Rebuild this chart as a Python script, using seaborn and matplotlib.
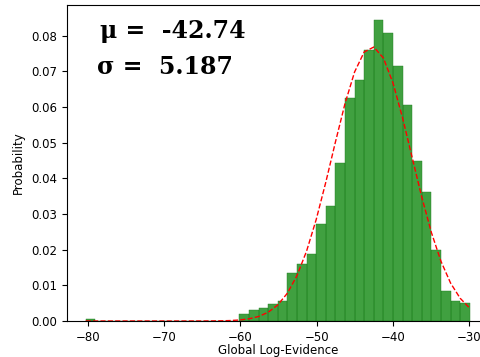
import numpy as np
import pandas as pd
import matplotlib
matplotlib.use("Agg")
import matplotlib.pyplot as plt
import seaborn as sns

# ---- data ----
mu = -42.74
sigma = 5.187
bin_min, bin_max, n_bins = -80.3, -29.9, 40
# density of each of the 40 bins (left to right)
bin_density = [
    0.0005, 0, 0, 0, 0, 0, 0, 0, 0, 0,
    0, 0, 0, 0, 0, 0,
    0.0020, 0.0030, 0.0036, 0.0049, 0.0056,
    0.0134, 0.0159, 0.0187, 0.0272, 0.0323,
    0.0443, 0.0626, 0.0675, 0.0759, 0.0844,
    0.0808, 0.0714, 0.0605, 0.0448, 0.0361,
    0.0198, 0.0085, 0.0055, 0.0050,
]
x_label = "Global Log-Evidence"
y_label = "Probability"

edges = np.linspace(bin_min, bin_max, n_bins + 1)
centers = (edges[:-1] + edges[1:]) / 2
hist_df = pd.DataFrame({"x": centers, "w": bin_density})
pdf = np.exp(-0.5 * ((edges - mu) / sigma) ** 2) / (sigma * np.sqrt(2 * np.pi))
curve_df = pd.DataFrame({"x": edges, "y": pdf})

fig = plt.figure(figsize=(4.81, 3.57), dpi=100)
ax = fig.add_axes([66.5 / 481, 36 / 357, 422.5 / 481, 316 / 357])

sns.histplot(data=hist_df, x="x", weights="w", bins=n_bins,
             binrange=(bin_min, bin_max), color="g", alpha=0.75,
             edgecolor="#1f7a1f", linewidth=0.3, ax=ax)
sns.lineplot(data=curve_df, x="x", y="y", color="r", linestyle="--",
             linewidth=1.0, ax=ax)

span = bin_max - bin_min
ax.set_xlim(bin_min - 0.05 * span, bin_max + 0.05 * span)
ax.set_ylim(0, max(bin_density) * 1.05)
ax.spines["right"].set_visible(False)

ax.set_xlabel(x_label, fontsize=8.5, labelpad=0)
ax.set_ylabel(y_label, fontsize=8.5)
ax.tick_params(labelsize=8.5)

ax.text(0.079, 0.897, "\u03bc =  -42.74", transform=ax.transAxes,
        family="DejaVu Serif", fontweight="bold", fontsize=17,
        va="baseline", ha="left")
ax.text(0.072, 0.782, "\u03c3 =  5.187", transform=ax.transAxes,
        family="DejaVu Serif", fontweight="bold", fontsize=17,
        va="baseline", ha="left")

fig.savefig("out.png", dpi=100)
